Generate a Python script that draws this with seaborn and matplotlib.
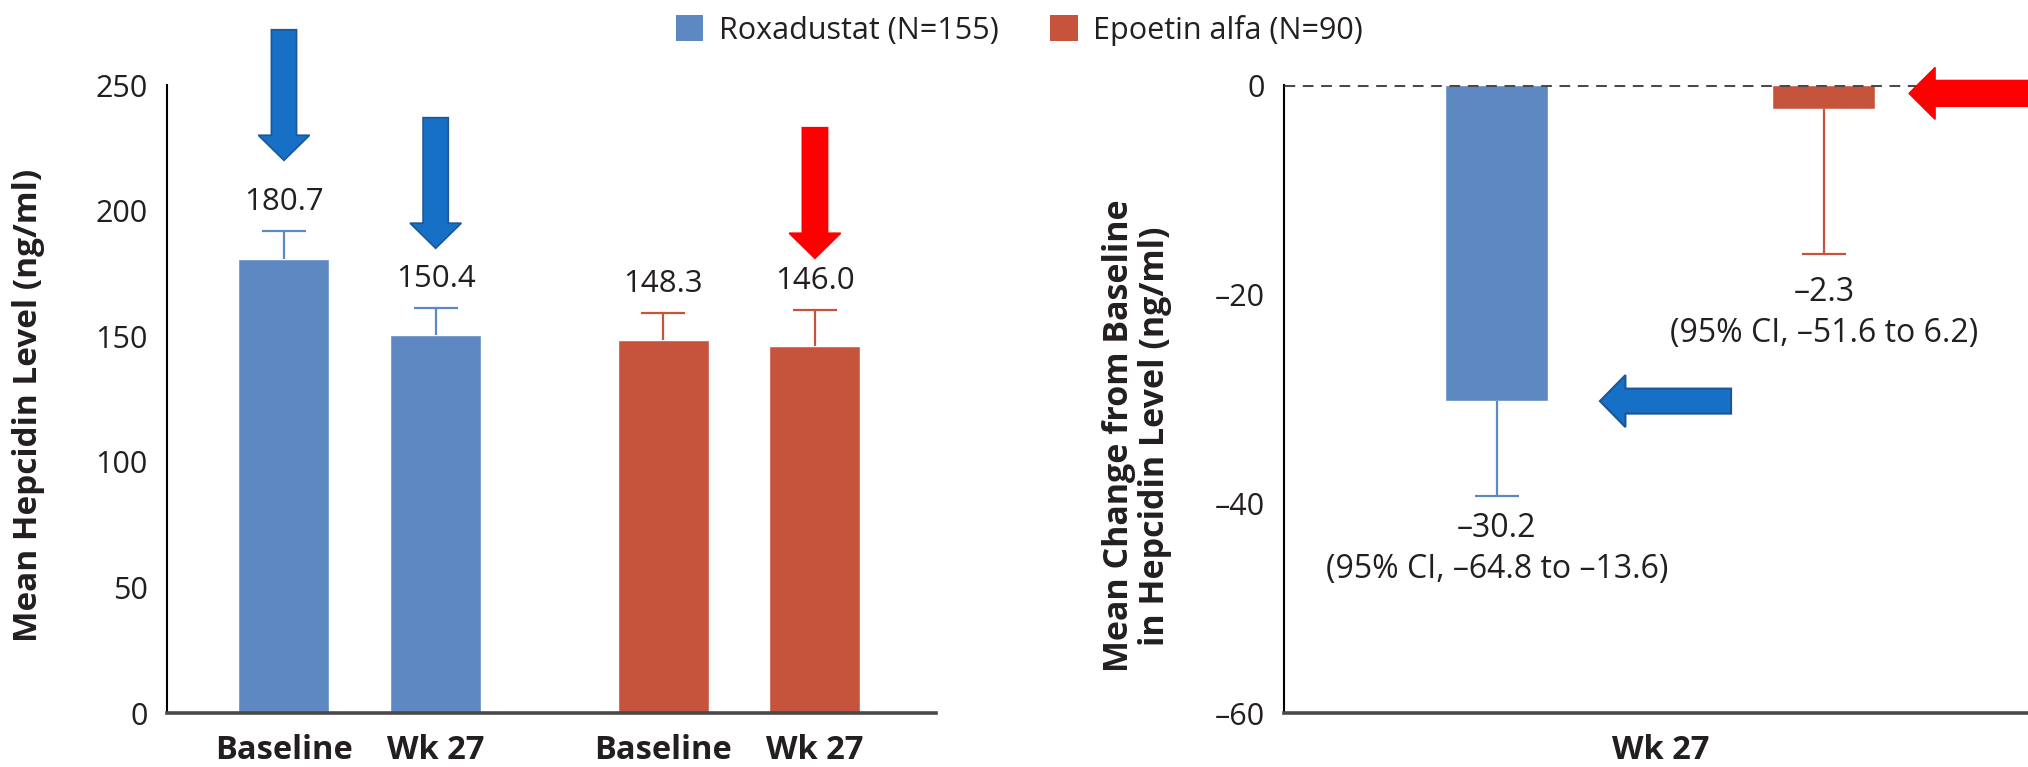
import matplotlib
matplotlib.use("Agg")
import matplotlib.pyplot as plt
from matplotlib.patches import Patch, FancyArrow
import seaborn as sns
import pandas as pd
import numpy as np

# ---- data -------------------------------------------------------------
groups = ["Roxadustat (N=155)", "Epoetin alfa (N=90)"]
visits = ["Baseline", "Wk 27", "Baseline", "Wk 27"]
visit_group = [groups[0], groups[0], groups[1], groups[1]]
visit_pos = [0.0, 1.0, 2.5, 3.5]
hepcidin_mean = [180.7, 150.4, 148.3, 146.0]
hepcidin_upper = [192.0, 161.3, 159.2, 160.4]

change_mean = [-30.2, -2.3]
change_lower = [-39.3, -16.1]
change_ci = ["(95% CI, \u201364.8 to \u201313.6)", "(95% CI, \u201351.6 to 6.2)"]

left_ticks = [0, 50, 100, 150, 200, 250]
right_ticks = [0, -20, -40, -60]

# ---- style ------------------------------------------------------------
BLUE = "#5E88C2"
RED = "#C6543C"
TXT = "#231F20"
ARROW_BLUE = "#1570C6"
ARROW_BLUE_EDGE = "#1D5696"
ARROW_RED = "#FF0000"

sns.set_style("white")
plt.rcParams["font.family"] = ["Open Sans", "DejaVu Sans"]
plt.rcParams["text.color"] = TXT
plt.rcParams["axes.labelcolor"] = TXT
plt.rcParams["xtick.color"] = TXT
plt.rcParams["ytick.color"] = TXT

fig = plt.figure(figsize=(20.28, 7.67), dpi=100)
ax1 = fig.add_axes([0.08235, 0.0704, 0.37919, 0.81877])
ax2 = fig.add_axes([0.63314, 0.0704, 0.36686, 0.81877])

palette = {groups[0]: BLUE, groups[1]: RED}


def one_sided_errorbar(ax, x, y, end, color):
    """Error whisker from the bar end to `end`, capped only at the far end."""
    _, caps, _ = ax.errorbar([x], [y],
                             yerr=[[max(y - end, 0)], [max(end - y, 0)]],
                             fmt="none", ecolor=color, elinewidth=1.6,
                             capsize=15.5, capthick=1.6, zorder=3)
    for cap in caps:
        if np.isclose(cap.get_ydata()[0], y):
            cap.set_visible(False)


# ---- left panel: mean hepcidin level ---------------------------------
df_left = pd.DataFrame({"pos": visit_pos, "value": hepcidin_mean,
                        "group": visit_group})
sns.barplot(data=df_left, x="pos", y="value", hue="group", palette=palette,
            native_scale=True, width=0.6, errorbar=None, legend=False,
            saturation=1, ax=ax1)

bar_colors = [palette[g] for g in visit_group]
for xp, m, up, c in zip(visit_pos, hepcidin_mean, hepcidin_upper, bar_colors):
    one_sided_errorbar(ax1, xp, m, up, c)
    ax1.annotate(f"{m:.1f}", xy=(xp, up), xytext=(0, 10),
                 textcoords="offset points", ha="center", va="bottom",
                 fontsize=22.5)

ax1.set_xlim(-0.771, 4.298)
ax1.set_ylim(0, 250)
ax1.set_yticks(left_ticks)
ax1.set_yticklabels([str(t) for t in left_ticks])
ax1.set_xticks(visit_pos)
ax1.set_xticklabels(visits, fontweight="bold", fontsize=23.5)
ax1.tick_params(axis="x", length=0, pad=15)
ax1.tick_params(axis="y", length=11, width=1.5, pad=3, labelsize=22,
                color="black")
ax1.set_xlabel("")
ax1.set_ylabel("Mean Hepcidin Level (ng/ml)", fontsize=24,
               fontweight="bold", va="center")
ax1.yaxis.set_label_coords(-0.1795, 0.49)
for s in ["top", "right"]:
    ax1.spines[s].set_visible(False)
ax1.spines["left"].set_color("black")
ax1.spines["left"].set_linewidth(1.5)
ax1.spines["bottom"].set_color("#4A4A4A")
ax1.spines["bottom"].set_linewidth(2.6)

# down arrows highlighting bars
arrow_specs = [(0, 272, ARROW_BLUE, ARROW_BLUE_EDGE),
               (1, 237, ARROW_BLUE, ARROW_BLUE_EDGE),
               (3, 233, ARROW_RED, ARROW_RED)]
for idx, ytop, fc, ec in arrow_specs:
    arr = FancyArrow(visit_pos[idx], ytop, 0, -52, width=0.166,
                     head_width=0.338, head_length=10,
                     length_includes_head=True, fc=fc, ec=ec, lw=1.2,
                     clip_on=False, zorder=5)
    ax1.add_patch(arr)

# ---- right panel: change from baseline --------------------------------
df_right = pd.DataFrame({"group": groups, "change": change_mean})
sns.barplot(data=df_right, x="group", y="change", hue="group",
            palette=palette, width=0.315, errorbar=None, legend=False,
            saturation=1, ax=ax2)

label_offsets = [-11, -16]
for i, (m, lo, ci) in enumerate(zip(change_mean, change_lower, change_ci)):
    c = palette[groups[i]]
    one_sided_errorbar(ax2, i, m, lo, c)
    ax2.annotate(f"\u2013{abs(m):.1f}\n{ci}", xy=(i, lo),
                 xytext=(0, label_offsets[i]), textcoords="offset points",
                 ha="center", va="top", fontsize=23, linespacing=1.32)

ax2.axhline(0, color="#4A4A4A", lw=2.2, ls=(0, (3.5, 2.5)), zorder=4)
ax2.set_xlim(-0.651, 1.624)
ax2.set_ylim(-60, 0)
ax2.set_yticks(right_ticks)
ax2.set_yticklabels(["0" if t == 0 else f"\u2013{abs(t)}" for t in right_ticks])
ax2.set_xticks([0.5])
ax2.set_xticklabels(["Wk 27"], fontweight="bold", fontsize=23.5)
ax2.tick_params(axis="x", length=0, pad=15)
ax2.tick_params(axis="y", length=11, width=1.5, pad=3, labelsize=22,
                color="black")
ax2.set_xlabel("")
ax2.set_ylabel("Mean Change from Baseline\nin Hepcidin Level (ng/ml)",
               fontsize=24.5, fontweight="bold", va="center",
               multialignment="center", linespacing=1.05)
ax2.yaxis.set_label_coords(-0.1976, 0.441)
for s in ["top", "right"]:
    ax2.spines[s].set_visible(False)
ax2.spines["left"].set_color("black")
ax2.spines["left"].set_linewidth(1.5)
ax2.spines["bottom"].set_color("#4A4A4A")
ax2.spines["bottom"].set_linewidth(2.6)

# left-pointing arrows beside the bars
ax2.add_patch(FancyArrow(0.716, change_mean[0], -0.401, 0, width=2.39,
                         head_width=4.97, head_length=0.078,
                         length_includes_head=True, fc=ARROW_BLUE,
                         ec=ARROW_BLUE_EDGE, lw=1.5, clip_on=False, zorder=5))
ax2.add_patch(FancyArrow(1.75, -0.8, -0.49, 0, width=2.48,
                         head_width=4.97, head_length=0.08,
                         length_includes_head=True, fc=ARROW_RED,
                         ec=ARROW_RED, lw=1, clip_on=False, zorder=5))

# ---- legend -----------------------------------------------------------
handles = [Patch(facecolor=palette[g], edgecolor="none", label=g)
           for g in groups]
fig.legend(handles=handles, loc="center", bbox_to_anchor=(0.5026, 1 - 30 / 767),
           ncol=2, frameon=False, fontsize=22, handlelength=0.9,
           handleheight=0.9, handletextpad=0.5, columnspacing=1.7)

fig.savefig("out.png", dpi=100)
